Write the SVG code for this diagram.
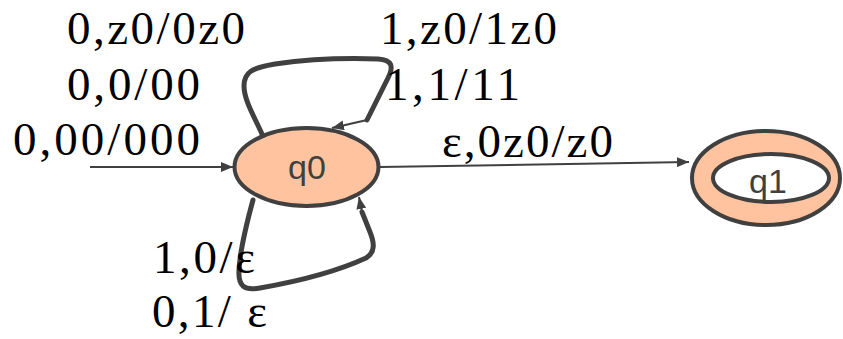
<svg xmlns="http://www.w3.org/2000/svg" width="843" height="339" viewBox="0 0 843 339">
  <style>
    .state { fill: #FFC49F; stroke: #404040; stroke-width: 4; }
    .inner { fill: #FFFFFF; stroke: #404040; stroke-width: 4; }
    .sname { font-family: "Liberation Sans", Arial, sans-serif; font-size: 34px; fill: #404040; text-anchor: middle; }
    .lbl { font-family: "Liberation Serif", "Times New Roman", serif; font-size: 47px; fill: #000000; }
    .edge { fill: none; stroke: #404040; stroke-width: 2; }
    .loop { fill: none; stroke: #404040; stroke-width: 5; stroke-linejoin: round; stroke-linecap: round; }
  </style>
  <defs>
    <marker id="arrow" viewBox="0 0 12 10" refX="12" refY="5" markerWidth="12" markerHeight="10" markerUnits="userSpaceOnUse" orient="auto">
      <path d="M0,0 L12,5 L0,10 Z" fill="#404040"/>
    </marker>
  </defs>

  <rect x="0" y="0" width="843" height="339" fill="#FFFFFF"/>

  <g id="connectors">
    <!-- start arrow -->
    <line class="edge" x1="90" y1="167" x2="233" y2="167" marker-end="url(#arrow)"/>
    <!-- q0 to q1 -->
    <line class="edge" x1="380" y1="167" x2="689" y2="162" marker-end="url(#arrow)"/>
    <!-- top self loop on q0 -->
    <path class="loop" d="M262,134 C254,116 244,100 244,86 C244,72 252,68 275,64 C310,59 350,58 378,59 C392,60 394,66 388,78 L367,120"/>
    <line class="edge" x1="367" y1="120" x2="332" y2="128" marker-end="url(#arrow)"/>
    <!-- bottom self loop on q0 -->
    <path class="loop" d="M253,200 C247,222 240,250 239,270 C238,286 244,291 260,288 C300,281 340,270 366,258 C376,252 374,242 370,232 L362,212"/>
    <line class="edge" x1="362" y1="212" x2="359" y2="197" marker-end="url(#arrow)"/>
  </g>

  <g id="q0">
    <ellipse class="state" cx="306.5" cy="167" rx="72" ry="39"/>
    <text class="sname" x="307" y="179">q0</text>
  </g>

  <g id="q1">
    <ellipse class="state" cx="766" cy="178" rx="74" ry="47"/>
    <ellipse class="inner" cx="771" cy="178" rx="58" ry="24"/>
    <text class="sname" x="768" y="193">q1</text>
  </g>

  <g id="labels">
    <text class="lbl" x="67" y="44" textLength="178">0,z0/0z0</text>
    <text class="lbl" x="67" y="100" textLength="133">0,0/00</text>
    <text class="lbl" x="13" y="155" textLength="187">0,00/000</text>
    <text class="lbl" x="380" y="44" textLength="177">1,z0/1z0</text>
    <text class="lbl" x="385" y="100" textLength="135">1,1/11</text>
    <text class="lbl" x="442" y="157" textLength="171">ε,0z0/z0</text>
    <text class="lbl" x="153" y="273" textLength="102">1,0/ε</text>
    <text class="lbl" x="152" y="327" textLength="115">0,1/ ε</text>
  </g>
</svg>
